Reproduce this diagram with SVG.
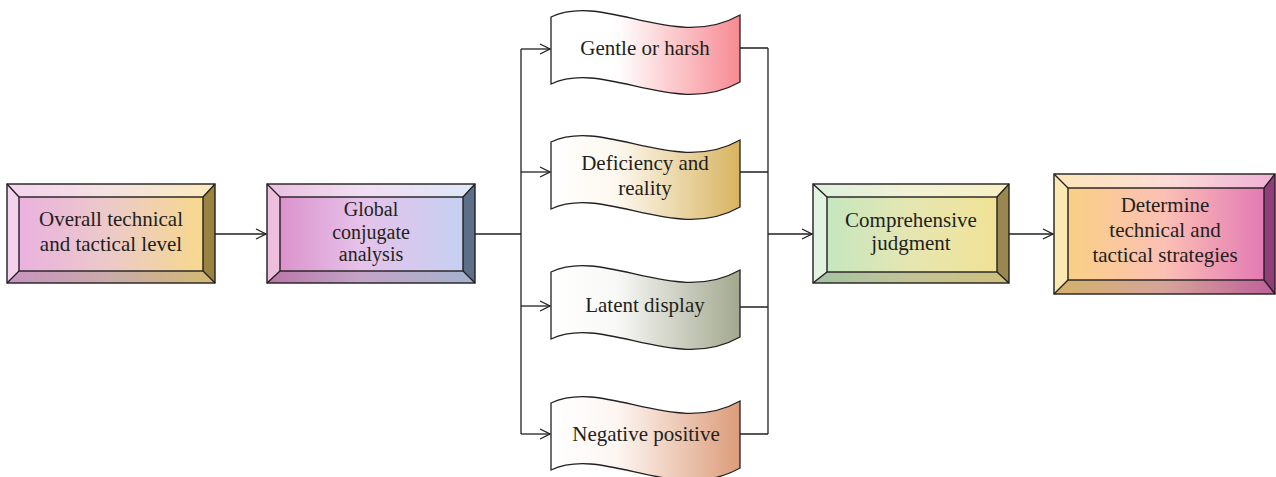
<svg xmlns="http://www.w3.org/2000/svg" width="1276" height="477" viewBox="0 0 1276 477">
<style>
.t{font-family:"Liberation Serif","DejaVu Serif",serif;font-size:21px;fill:#231f20;text-anchor:middle}
.s{font-size:20px}
.ol{fill:none;stroke:#231f20;stroke-width:1.4;stroke-linejoin:miter}
.hl{fill:#ffffff;opacity:0.45}
.sh{fill:#000000;opacity:0.15}
.c{fill:none;stroke:#231f20;stroke-width:1.3}
.w{stroke:#231f20;stroke-width:1.3}
</style>
<defs>
<marker id="ah" viewBox="0 0 12 12" refX="11" refY="6" markerWidth="12" markerHeight="12" markerUnits="userSpaceOnUse" orient="auto">
<path d="M1,1 L11,6 L1,11" fill="none" stroke="#231f20" stroke-width="1.3"/>
</marker>
<linearGradient id="g1" x1="0" y1="0" x2="1" y2="0">
<stop offset="0" stop-color="#eaaee2"/><stop offset="0.5" stop-color="#eccac8"/><stop offset="1" stop-color="#f8da84"/>
</linearGradient>
<linearGradient id="g2" x1="0" y1="0" x2="1" y2="0">
<stop offset="0" stop-color="#d98bc6"/><stop offset="0.45" stop-color="#e6c2ea"/><stop offset="1" stop-color="#c2d2f2"/>
</linearGradient>
<linearGradient id="g3" x1="0" y1="0" x2="1" y2="0">
<stop offset="0" stop-color="#c0e6c2"/><stop offset="0.5" stop-color="#e6e6b2"/><stop offset="1" stop-color="#f2e292"/>
</linearGradient>
<linearGradient id="g4" x1="0" y1="0" x2="1" y2="0">
<stop offset="0" stop-color="#f9d27e"/><stop offset="0.5" stop-color="#fcc0b4"/><stop offset="1" stop-color="#e072b4"/>
</linearGradient>
<linearGradient id="wa" x1="0" y1="0" x2="1" y2="0">
<stop offset="0" stop-color="#ffffff"/><stop offset="0.35" stop-color="#ffffff"/><stop offset="1" stop-color="#f78a92"/>
</linearGradient>
<linearGradient id="wb" x1="0" y1="0" x2="1" y2="0">
<stop offset="0" stop-color="#ffffff"/><stop offset="0.35" stop-color="#fdf8ef"/><stop offset="1" stop-color="#d8b460"/>
</linearGradient>
<linearGradient id="wc" x1="0" y1="0" x2="1" y2="0">
<stop offset="0" stop-color="#ffffff"/><stop offset="0.35" stop-color="#f8f8f6"/><stop offset="1" stop-color="#a2a88e"/>
</linearGradient>
<linearGradient id="wd" x1="0" y1="0" x2="1" y2="0">
<stop offset="0" stop-color="#ffffff"/><stop offset="0.35" stop-color="#fdf6f2"/><stop offset="1" stop-color="#dc9c7a"/>
</linearGradient>
</defs>

<g id="connectors">
<path class="c" d="M215,234 H266" marker-end="url(#ah)"/>
<path class="c" d="M475,234 H521 M521,49 V434"/>
<path class="c" d="M521,49 H550" marker-end="url(#ah)"/>
<path class="c" d="M521,172 H550" marker-end="url(#ah)"/>
<path class="c" d="M521,306 H550" marker-end="url(#ah)"/>
<path class="c" d="M521,434 H550" marker-end="url(#ah)"/>
<path class="c" d="M740,48 H768 M740,172 H768 M740,307 H768 M740,434 H768 M768,48 V434"/>
<path class="c" d="M768,234 H812" marker-end="url(#ah)"/>
<path class="c" d="M1009,234 H1053" marker-end="url(#ah)"/>
</g>

<g id="node-overall">
<rect x="7" y="184" width="208" height="99" fill="url(#g1)"/>
<polygon points="7,184 215,184 203,197 19,197" fill="url(#g1)"/>
<polygon class="hl" points="7,184 215,184 203,197 19,197"/>
<polygon points="7,184 19,197 19,271 7,283" fill="#f4d2ee"/>
<polygon points="215,184 203,197 203,271 215,283" fill="#9a8240"/>
<polygon points="7,283 19,271 203,271 215,283" fill="url(#g1)"/>
<polygon class="sh" points="7,283 19,271 203,271 215,283"/>
<rect class="ol" x="7" y="184" width="208" height="99"/>
<rect class="ol" x="19" y="197" width="184" height="74"/>
<path class="ol" d="M7,184 L19,197 M215,184 L203,197 M7,283 L19,271 M215,283 L203,271"/>
<text class="t" x="111" y="226">Overall technical</text>
<text class="t" x="111" y="251">and tactical level</text>
</g>

<g id="node-global">
<rect x="267" y="184" width="208" height="99" fill="url(#g2)"/>
<polygon points="267,184 475,184 463,197 280,197" fill="url(#g2)"/>
<polygon class="hl" points="267,184 475,184 463,197 280,197"/>
<polygon points="267,184 280,197 280,271 267,283" fill="#eebfdc"/>
<polygon points="475,184 463,197 463,271 475,283" fill="#5c6f88"/>
<polygon points="267,283 280,271 463,271 475,283" fill="url(#g2)"/>
<polygon class="sh" points="267,283 280,271 463,271 475,283"/>
<rect class="ol" x="267" y="184" width="208" height="99"/>
<rect class="ol" x="280" y="197" width="183" height="74"/>
<path class="ol" d="M267,184 L280,197 M475,184 L463,197 M267,283 L280,271 M475,283 L463,271"/>
<text class="t s" x="371" y="216">Global</text>
<text class="t s" x="371" y="238.5">conjugate</text>
<text class="t s" x="371" y="261">analysis</text>
</g>

<g id="node-gentle">
<path class="w" fill="url(#wa)" d="M551,17 C605,-8 675,52 740,15 L740,82 C675,119 605,59 551,84 Z"/>
<text class="t" x="645" y="55">Gentle or harsh</text>
</g>

<g id="node-deficiency">
<path class="w" fill="url(#wb)" d="M551,142 C605,117 675,177 740,140 L740,207 C675,244 605,184 551,209 Z"/>
<text class="t" x="645" y="170">Deficiency and</text>
<text class="t" x="645" y="195">reality</text>
</g>

<g id="node-latent">
<path class="w" fill="url(#wc)" d="M551,272 C605,247 675,307 740,270 L740,337 C675,374 605,314 551,339 Z"/>
<text class="t" x="645" y="312">Latent display</text>
</g>

<g id="node-negative">
<path class="w" fill="url(#wd)" d="M551,403 C605,378 675,438 740,401 L740,468 C675,505 605,445 551,470 Z"/>
<text class="t" x="646" y="441">Negative positive</text>
</g>

<g id="node-comprehensive">
<rect x="813" y="184" width="196" height="99" fill="url(#g3)"/>
<polygon points="813,184 1009,184 997,197 827,197" fill="url(#g3)"/>
<polygon class="hl" points="813,184 1009,184 997,197 827,197"/>
<polygon points="813,184 827,197 827,272 813,283" fill="#e0f4e0"/>
<polygon points="1009,184 997,197 997,272 1009,283" fill="#988850"/>
<polygon points="813,283 827,272 997,272 1009,283" fill="url(#g3)"/>
<polygon class="sh" points="813,283 827,272 997,272 1009,283"/>
<rect class="ol" x="813" y="184" width="196" height="99"/>
<rect class="ol" x="827" y="197" width="170" height="75"/>
<path class="ol" d="M813,184 L827,197 M1009,184 L997,197 M813,283 L827,272 M1009,283 L997,272"/>
<text class="t" x="911" y="227">Comprehensive</text>
<text class="t" x="911" y="250">judgment</text>
</g>

<g id="node-determine">
<rect x="1054" y="174" width="221" height="120" fill="url(#g4)"/>
<polygon points="1054,174 1275,174 1264,188 1068,188" fill="url(#g4)"/>
<polygon class="hl" points="1054,174 1275,174 1264,188 1068,188"/>
<polygon points="1054,174 1068,188 1068,280 1054,294" fill="#fbe8b2"/>
<polygon points="1275,174 1264,188 1264,280 1275,294" fill="#8e3e78"/>
<polygon points="1054,294 1068,280 1264,280 1275,294" fill="url(#g4)"/>
<polygon class="sh" points="1054,294 1068,280 1264,280 1275,294"/>
<rect class="ol" x="1054" y="174" width="221" height="120"/>
<rect class="ol" x="1068" y="188" width="196" height="92"/>
<path class="ol" d="M1054,174 L1068,188 M1275,174 L1264,188 M1054,294 L1068,280 M1275,294 L1264,280"/>
<text class="t" x="1165" y="212">Determine</text>
<text class="t" x="1165" y="237">technical and</text>
<text class="t" x="1165" y="262">tactical strategies</text>
</g>
</svg>
